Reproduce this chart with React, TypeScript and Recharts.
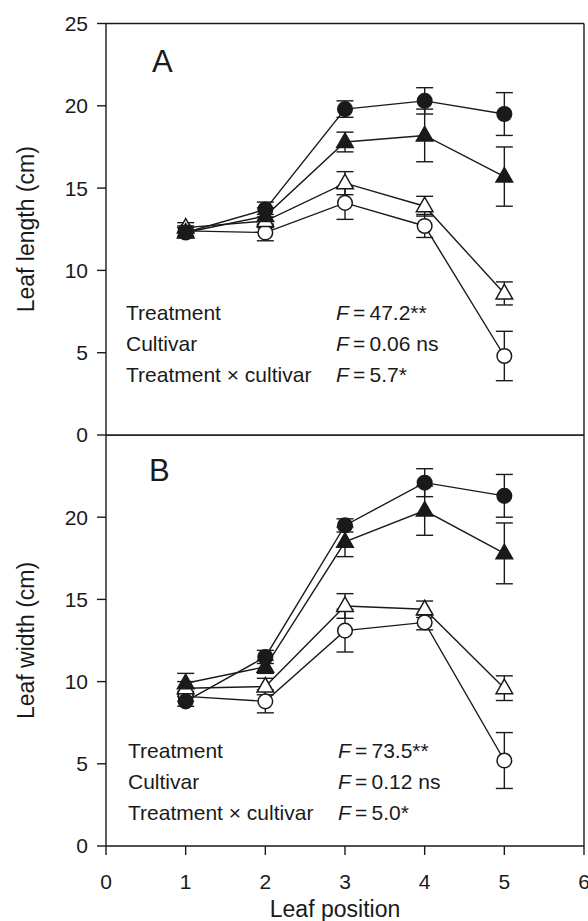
import React from 'react';
import { LineChart, Line, XAxis, YAxis, ErrorBar, ReferenceLine } from 'recharts';

// leaf positions along the x axis
const positions = [1, 2, 3, 4, 5];

// Panel A – leaf length (cm)
const lengthFilledCircle = [12.3, 13.7, 19.8, 20.3, 19.5];
const lengthFilledCircleErr = [0.3, 0.45, 0.5, 0.8, 1.3];
const lengthFilledTriangle = [12.3, 13.3, 17.8, 18.2, 15.7];
const lengthFilledTriangleErr = [0.3, 0.5, 0.6, 1.6, 1.8];
const lengthOpenTriangle = [12.6, 13.0, 15.3, 13.9, 8.6];
const lengthOpenTriangleErr = [0.3, 0.4, 0.7, 0.6, 0.7];
const lengthOpenCircle = [12.4, 12.3, 14.1, 12.7, 4.8];
const lengthOpenCircleErr = [0.3, 0.5, 1.0, 0.7, 1.5];

// Panel B – leaf width (cm)
const widthFilledCircle = [8.8, 11.5, 19.5, 22.1, 21.3];
const widthFilledCircleErr = [0.3, 0.4, 0.4, 0.85, 1.3];
const widthFilledTriangle = [9.9, 10.9, 18.5, 20.4, 17.8];
const widthFilledTriangleErr = [0.6, 0.4, 0.9, 1.5, 1.85];
const widthOpenTriangle = [9.6, 9.7, 14.6, 14.4, 9.6];
const widthOpenTriangleErr = [0.4, 0.5, 0.75, 0.5, 0.75];
const widthOpenCircle = [9.1, 8.8, 13.1, 13.6, 5.2];
const widthOpenCircleErr = [0.3, 0.7, 1.3, 0.45, 1.7];

const xTicks = [0, 1, 2, 3, 4, 5, 6];
const lengthTicks = [0, 5, 10, 15, 20, 25];
const widthTicks = [0, 5, 10, 15, 20];

const statsA = [
  ['Treatment', '47.2**'],
  ['Cultivar', '0.06 ns'],
  ['Treatment \u00d7 cultivar', '5.7*'],
];
const statsB = [
  ['Treatment', '73.5**'],
  ['Cultivar', '0.12 ns'],
  ['Treatment \u00d7 cultivar', '5.0*'],
];

const buildData = (fc: number[], fcE: number[], ft: number[], ftE: number[], ot: number[], otE: number[], oc: number[], ocE: number[]) =>
  positions.map((p, i) => ({
    pos: p,
    fc: fc[i], fcErr: fcE[i],
    ft: ft[i], ftErr: ftE[i],
    ot: ot[i], otErr: otE[i],
    oc: oc[i], ocErr: ocE[i],
  }));

const lengthData = buildData(
  lengthFilledCircle, lengthFilledCircleErr, lengthFilledTriangle, lengthFilledTriangleErr,
  lengthOpenTriangle, lengthOpenTriangleErr, lengthOpenCircle, lengthOpenCircleErr
);
const widthData = buildData(
  widthFilledCircle, widthFilledCircleErr, widthFilledTriangle, widthFilledTriangleErr,
  widthOpenTriangle, widthOpenTriangleErr, widthOpenCircle, widthOpenCircleErr
);

const INK = '#1a1a1a';
const FONT = '"Liberation Sans", Arial, Helvetica, sans-serif';

const makeDot = (kind: 'circle' | 'triangle', filled: boolean) => (props: any) => {
  const { cx, cy, index } = props;
  if (cx == null || cy == null) return <g key={`d-${index}`} />;
  const fill = filled ? INK : '#fff';
  if (kind === 'circle') {
    return <circle key={`d-${index}`} cx={cx} cy={cy} r={7.3} fill={fill} stroke={INK} strokeWidth={1.5} />;
  }
  const pts = `${cx},${cy - 9} ${cx - 8.3},${cy + 5.5} ${cx + 8.3},${cy + 5.5}`;
  return <polygon key={`d-${index}`} points={pts} fill={fill} stroke={INK} strokeWidth={1.5} strokeLinejoin="miter" />;
};

const YLabel = (props: any) => {
  const vb = props.viewBox || {};
  const cy = (vb.y ?? 0) + (vb.height ?? 0) / 2;
  return (
    <text x={26} y={cy} transform={`rotate(-90, 26, ${cy})`} textAnchor="middle" dominantBaseline="central"
      fontSize={23} fontFamily={FONT} fill={INK}>
      {props.value}
    </text>
  );
};

const series = [
  { key: 'oc', kind: 'circle' as const, filled: false },
  { key: 'ot', kind: 'triangle' as const, filled: false },
  { key: 'ft', kind: 'triangle' as const, filled: true },
  { key: 'fc', kind: 'circle' as const, filled: true },
];

const renderSeries = () =>
  series.map((s) => (
    <Line key={s.key} type="linear" dataKey={s.key} stroke={INK} strokeWidth={1.4}
      dot={makeDot(s.kind, s.filled)} activeDot={false} isAnimationActive={false}>
      <ErrorBar dataKey={`${s.key}Err`} width={8.5} stroke={INK} strokeWidth={1.4} direction="y" isAnimationActive={false} />
    </Line>
  ));

const Stats = ({ rows, x, fx, y0 }: { rows: string[][]; x: number; fx: number; y0: number }) => (
  <g fontFamily={FONT} fontSize={21} fill={INK}>
    {rows.map((r, i) => (
      <React.Fragment key={r[0]}>
        <text x={x} y={y0 + i * 30.8}>{r[0]}</text>
        <text x={fx} y={y0 + i * 30.8}>
          <tspan fontStyle="italic">F</tspan>
          <tspan>{'\u2009=\u2009' + r[1]}</tspan>
        </text>
      </React.Fragment>
    ))}
  </g>
);

const tickStyle = { fontSize: 21, fontFamily: FONT, fill: INK };
const axisLine = { stroke: INK, strokeWidth: 1.4 };

export default function App() {
  return (
    <div style={{ position: 'absolute', left: 0, top: 0, width: 588, height: 921, background: '#fff', overflow: 'hidden' }}>
      <div style={{ position: 'absolute', left: 0, top: 0 }}>
        {/* extra 15px under the plot so the "0" tick label is not cut */}
        <LineChart width={588} height={450} data={lengthData} margin={{ top: 23.5, right: 4, bottom: 15, left: 0 }}>
          <XAxis type="number" dataKey="pos" domain={[0, 6]} ticks={xTicks} hide />
          <YAxis type="number" domain={[0, 25]} ticks={lengthTicks} width={106} tickSize={9} tickMargin={9}
            tick={tickStyle} axisLine={axisLine} tickLine={axisLine} interval={0}
            label={<YLabel value="Leaf length (cm)" />} />
          <ReferenceLine y={25} stroke={INK} strokeWidth={1.4} />
          <ReferenceLine y={0} stroke={INK} strokeWidth={1.4} />
          <ReferenceLine x={6} stroke={INK} strokeWidth={1.4} />
          {renderSeries()}
          <text x={152} y={72.3} fontSize={31} fontFamily={FONT} fill={INK}>A</text>
          <Stats rows={statsA} x={126} fx={336} y0={320} />
        </LineChart>
      </div>
      <div style={{ position: 'absolute', left: 0, top: 435 }}>
        <LineChart width={588} height={486} data={widthData} margin={{ top: 0, right: 4, bottom: 0, left: 0 }}>
          <XAxis type="number" dataKey="pos" domain={[0, 6]} ticks={xTicks} height={75} tickSize={9} tickMargin={19}
            tick={tickStyle} axisLine={axisLine} tickLine={axisLine} interval={0}
            label={{ value: 'Leaf position', position: 'insideBottom', offset: 4, dx: -10, fontSize: 23, fontFamily: FONT, fill: INK }} />
          <YAxis type="number" domain={[0, 25]} ticks={widthTicks} width={106} tickSize={9} tickMargin={9}
            tick={tickStyle} axisLine={axisLine} tickLine={axisLine} interval={0}
            label={<YLabel value="Leaf width (cm)" />} />
          <ReferenceLine y={25} stroke={INK} strokeWidth={1.4} />
          <ReferenceLine x={6} stroke={INK} strokeWidth={1.4} />
          {renderSeries()}
          <text x={149} y={45.7} fontSize={31} fontFamily={FONT} fill={INK}>B</text>
          <Stats rows={statsB} x={128} fx={338} y0={323.3} />
        </LineChart>
      </div>
    </div>
  );
}
